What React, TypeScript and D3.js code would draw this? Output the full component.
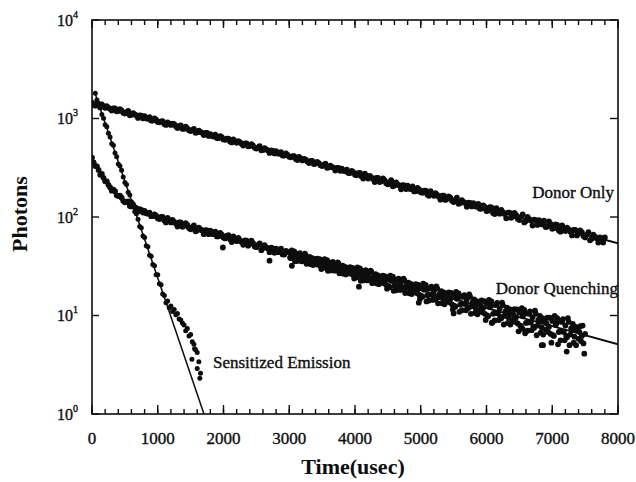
import React from 'react';
import * as d3 from 'd3';

// ---------- data ----------
// Donor Only: photon counts every 50 usec from t = 0, and interleaved set from t = 25
const donorStart = 0;
const donorStep = 50;
const donorOnly = [
  1448,1350,1377,1388,1282,1282,1206,1268,1194,1205,1122,1191,1089,1099,1013,1066,1055,993,953,1000,
  924,933,878,914,860,877,801,850,785,792,745,783,723,730,680,715,694,655,633,662,
  613,626,583,612,566,576,532,560,526,531,495,525,480,485,447,470,465,438,420,441,
  408,415,387,407,375,383,353,371,349,353,329,349,319,322,296,315,309,291,279,293,
  268,279,257,276,246,253,226,250,230,236,215,236,209,214,191,209,208,192,182,198,
  178,185,169,183,164,168,150,165,153,157,142,157,139,142,127,139,138,127,121,131,
  115,126,110,123,108,112,97,111,101,105,93,106,91,95,82,93,93,84,79,90,
  76,84,73,82,72,75,65,74,68,70,62,70,60,63,55,61,62,
];
const donorBStart = 25;
const donorOnlyB = [
  1378,1418,1295,1335,1334,1256,1268,1182,1242,1146,1157,1078,1133,1077,1076,1004,1004,1033,953,971,
  915,942,860,887,886,835,843,785,825,760,768,715,753,716,715,666,666,685,632,646,
  608,625,571,589,588,553,559,522,548,506,510,475,500,475,474,442,442,456,420,428,
  404,415,379,391,390,367,371,345,363,336,339,316,332,316,315,294,294,303,279,285,
  265,280,246,261,262,243,249,226,246,220,226,205,224,209,211,192,194,205,183,191,
  176,185,164,173,175,161,165,149,162,146,149,136,148,139,140,128,129,136,122,127,
  116,125,107,115,118,107,111,98,110,96,100,88,100,92,94,83,85,92,80,85,
  77,83,71,77,78,71,74,65,73,64,66,58,66,61,62,55,
];

// Donor Quenching: every 50 usec from 0 to 2950 (two interleaved sets), then every 25 usec from 3000
const quenchEarlyStart = 0;
const quenchEarlyStep = 50;
const quenchEarly = [
  401,330,300,274,230,212,185,183,163,157,141,144,128,126,114,118,115,108,102,106,
  97,100,92,98,88,89,80,88,81,83,75,82,73,75,67,73,72.5,67,63.5,69,
  61.9,64.3,59.3,63.5,56.8,58.3,52.3,57.5,53.1,54.4,49.4,54.1,48.1,49.2,43.9,47.9,47.7,43.9,41.7,45.4,
];
const quenchEarlyBStart = 25;
const quenchEarlyB = [
  358,327,268,250,230,200,189,166,165,146,142,129,132,123,120,111,109,111,102,103,
  95.4,100.2,88.0,92.8,93.2,86.0,87.9,79.6,86.5,77.4,79.1,71.6,78.0,73.1,73.7,66.9,67.6,71.2,63.8,66.3,
  60.6,65.5,55.7,60.4,61.5,55.7,57.8,51.1,57.6,50.1,52.1,46.1,51.9,48.0,48.9,43.2,44.2,47.7,41.5,44.0,
];
const quenchLateStart = 3000;
const quenchLateStep = 25;
const quenchLate = [
  44.0,38.2,41.8,44.7, 38.6,35.8,42.2,38.2, 40.0,35.8,41.1,36.2, 37.3,33.2,38.3,36.9, 33.6,37.8,34.4,31.9,
  35.8,30.6,33.9,36.5, 31.1,28.7,34.2,30.8, 32.6,28.9,33.6,29.2, 30.2,26.6,31.2,30.0, 27.1,30.9,27.8,25.7,
  29.3,24.4,27.6,30.1, 25.0,22.7,28.1,24.9, 26.6,23.1,27.7,23.5, 24.5,21.2,25.5,24.4, 21.7,25.4,22.4,20.5,
  24.0,19.4,22.5,24.8, 20.1,18.0,23.1,20.1, 21.7,18.5,22.8,19.0, 19.9,16.8,20.9,19.9, 17.4,20.8,18.1,16.3,
  19.6,15.5,18.3,20.5, 16.1,14.2,18.9,16.2, 17.7,14.7,18.8,15.3, 16.2,13.3,17.2,16.2, 14.0,17.2,14.7,13.0,
  16.0,12.3,14.8,16.8, 12.9,11.3,15.5,13.1, 14.5,11.9,15.5,12.4, 13.1,10.6,14.0,13.2, 11.2,14.2,11.9,10.4,
  13.1,9.8,12.2,13.9, 10.4,8.9,12.8,10.5, 11.8,9.4,12.7,9.9, 10.7,8.4,11.6,10.8, 9.0,11.6,9.6,8.3,
  10.7,7.8,9.8,11.4, 8.4,7.0,10.4,8.5, 9.6,7.5,10.4,7.9, 8.7,6.7,9.4,8.8, 7.2,9.5,7.7,6.5,
  8.8,6.2,8.0,9.4, 6.8,5.6,8.6,6.8, 7.9,6.0,8.6,6.4, 7.1,5.3,7.7,7.1, 5.8,7.8,6.2,5.2,
  6.5,
];
const quenchLateBStart = 3012.5;
const quenchLateB = [
  38.7,45.8,42.3,35.6, 42.4,38.6,43.0,35.5, 36.5,42.4,33.5,38.0, 39.3,35.0,32.5,37.3, 35.6,32.8,37.4,29.6,
  31.1,37.3,34.3,28.4, 34.4,31.2,35.0,28.5, 29.4,34.7,26.8,30.9, 32.1,28.3,26.1,30.3, 29.0,26.5,30.5,23.7,
  24.9,30.8,28.0,22.5, 28.3,25.2,28.8,22.7, 23.7,28.6,21.3,25.1, 26.3,22.7,20.8,24.7, 23.4,21.2,25.0,18.7,
  19.9,25.4,22.8,17.8, 23.1,20.4,23.6,18.1, 19.0,23.6,16.9,20.5, 21.5,18.3,16.5,20.2, 19.0,16.9,20.5,14.7,
  15.8,21.0,18.7,13.9, 18.9,16.3,19.6,14.4, 15.2,19.7,13.3,16.6, 17.7,14.8,13.0,16.5, 15.5,13.6,17.0,11.5,
  12.5,17.4,15.2,10.9, 15.5,13.2,16.1,11.3, 12.2,16.4,10.4,13.6, 14.6,11.8,10.3,13.5, 12.6,10.8,14.0,9.0,
  10.0,14.4,12.5,8.5, 12.8,10.6,13.4,9.0, 9.7,13.5,8.1,11.0, 12.0,9.5,8.1,11.2, 10.2,8.6,11.5,6.9,
  7.9,11.9,10.2,6.6, 10.5,8.5,11.0,7.1, 7.7,11.2,6.3,9.0, 9.9,7.6,6.4,9.1, 8.3,6.8,9.5,5.3,
  6.3,9.9,8.3,5.1, 8.7,6.9,9.2,5.6, 6.2,9.4,5.0,7.4, 8.2,6.1,5.0,7.5, 6.8,5.5,7.9,4.1,
];
const quenchOutlierT = [1990, 2700, 3040, 4060, 4970, 5500, 6080, 6550, 6840, 6860, 7220];
const quenchOutlierV = [49, 36, 32, 19.6, 13.5, 10.5, 8.4, 7.3, 5.0, 5.0, 4.3];

// Sensitized Emission: every 25 usec from t = 50
const sensStart = 50;
const sensStep = 25;
const sensitized = [
  1800,1540,1425,1300,1100,1004,862,825,708,650,553,535,446,410,345,330,298,255,224,214,
  178,167,143,136,113,108,95,80,78,64,62,51,50,41,40,33,32,26,26,21,
  20.5,16.5,16,13.5,14,12,12.5,11,11.5,10.2,10.5,9.2,9,8.4,8,7,7.4,6.2,6.4,5.4,
  5.1,4.5,4.2,3.4,2.6,
];
const sensExtraT = [1520, 1600, 1640, 1560];
const sensExtraV = [3.6, 2.9, 2.3, 4.6];

// Fitted curves
const donorFitT = [0, 8000];
const donorFitV = [1420, 54];
const quenchFitT = [0,50,100,150,200,250,300,400,500,600,700,800,1000,1200,1500,2000,3000,4000,5000,6000,7000,8000];
const quenchFitV = [393,340,297,263,235,212,193,165,145,131,120,112,99.7,90.3,78.9,63.8,41.9,27.5,18.1,11.9,7.8,5.1];
const sensFitT = [46, 1703];
const sensFitV = [1800, 1];

// Axis ticks
const xMajorTicks = [0,1000,2000,3000,4000,5000,6000,7000,8000];
const xMinorTicks = d3.range(0, 8001, 200);
const yExponents = [0,1,2,3,4];

export default function App() {
  const left = 92, right = 618, top = 20, bottom = 414;
  const x = d3.scaleLinear().domain([0, 8000]).range([left, right]);
  const y = d3.scaleLog().domain([1, 10000]).range([bottom, top]);

  const grid = (start: number, step: number, vals: number[]) =>
    vals.map((v, i) => [start + i * step, v] as [number, number]);
  const pairs = (ts: number[], vs: number[]) => ts.map((t, i) => [t, vs[i]] as [number, number]);

  const bigPoints: [number, number][] = [
    ...grid(donorStart, donorStep, donorOnly),
    ...grid(donorBStart, donorStep, donorOnlyB),
    ...grid(quenchEarlyStart, quenchEarlyStep, quenchEarly),
    ...grid(quenchEarlyBStart, quenchEarlyStep, quenchEarlyB),
    ...grid(quenchLateStart, quenchLateStep, quenchLate),
    ...grid(quenchLateBStart, quenchLateStep, quenchLateB),
    ...pairs(quenchOutlierT, quenchOutlierV),
  ];
  const sensPoints: [number, number][] = [
    ...grid(sensStart, sensStep, sensitized),
    ...pairs(sensExtraT, sensExtraV),
  ];

  const line = d3.line<[number, number]>()
    .x(d => x(d[0]))
    .y(d => y(d[1]))
    .curve(d3.curveMonotoneX);

  const ink = '#0d0d0d';
  const font = "'Liberation Serif', 'Times New Roman', Times, serif";

  return (
    <svg width={636} height={482} style={{ position: 'absolute', left: 0, top: 0, background: '#fff', fontFamily: font }}>
      <defs>
        <clipPath id="plot"><rect x={left} y={top} width={right - left} height={bottom - top} /></clipPath>
      </defs>

      {/* fit lines */}
      <g clipPath="url(#plot)" fill="none" stroke={ink}>
        <path d={line(pairs(donorFitT, donorFitV)) || ''} strokeWidth={2} />
        <path d={line(pairs(quenchFitT, quenchFitV)) || ''} strokeWidth={2} />
        <path d={line(pairs(sensFitT, sensFitV)) || ''} strokeWidth={1.5} />
      </g>

      {/* data points */}
      <g clipPath="url(#plot)" fill={ink}>
        {bigPoints.map((p, i) => (
          <circle key={'b' + i} cx={x(p[0])} cy={y(p[1])} r={2.9} />
        ))}
        {sensPoints.map((p, i) => (
          <circle key={'s' + i} cx={x(p[0])} cy={y(p[1])} r={2.5} />
        ))}
      </g>

      {/* frame */}
      <rect x={left} y={top} width={right - left} height={bottom - top} fill="none" stroke={ink} strokeWidth={1.6} />

      {/* ticks */}
      <g stroke={ink} strokeWidth={1.4}>
        {xMinorTicks.map(t => (
          <g key={'m' + t}>
            <line x1={x(t)} x2={x(t)} y1={bottom} y2={bottom - 5} />
            <line x1={x(t)} x2={x(t)} y1={top} y2={top + 5} />
          </g>
        ))}
        {xMajorTicks.map(t => (
          <g key={'M' + t}>
            <line x1={x(t)} x2={x(t)} y1={bottom} y2={bottom - 9} />
            <line x1={x(t)} x2={x(t)} y1={top} y2={top + 8} />
          </g>
        ))}
        {yExponents.map(e => (
          <g key={'y' + e}>
            <line x1={left} x2={left + 7} y1={y(Math.pow(10, e))} y2={y(Math.pow(10, e))} />
            <line x1={right} x2={right - 8} y1={y(Math.pow(10, e))} y2={y(Math.pow(10, e))} />
          </g>
        ))}
      </g>

      {/* x tick labels */}
      <g fontSize={17} textAnchor="middle" fill={ink} stroke={ink} strokeWidth={0.35}>
        {xMajorTicks.map(t => (
          <text key={t} x={x(t)} y={444}>{t}</text>
        ))}
      </g>

      {/* y tick labels */}
      <g fill={ink} stroke={ink} strokeWidth={0.35}>
        {yExponents.map(e => (
          <text key={e} x={57} y={y(Math.pow(10, e)) + 5.5} fontSize={16}>
            10<tspan dy={-8} fontSize={10}>{e}</tspan>
          </text>
        ))}
      </g>

      {/* axis titles */}
      <text x={353} y={474} fontSize={22} fontWeight="bold" textAnchor="middle" fill={ink}>Time(usec)</text>
      <text transform="translate(27,214) rotate(-90)" fontSize={22} fontWeight="bold" textAnchor="middle" fill={ink}>Photons</text>

      {/* series labels */}
      <g fontSize={17} fill={ink} stroke={ink} strokeWidth={0.35}>
        <text x={614} y={198} textAnchor="end">Donor Only</text>
        <text x={618} y={294} textAnchor="end">Donor Quenching</text>
        <text x={213} y={368}>Sensitized Emission</text>
      </g>
    </svg>
  );
}
